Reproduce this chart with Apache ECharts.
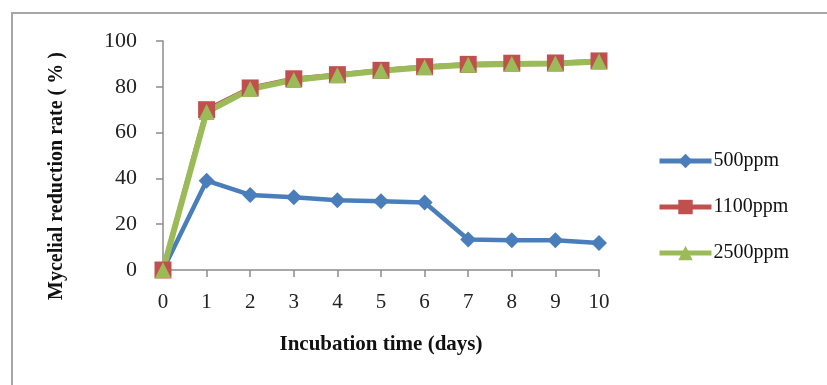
<!DOCTYPE html>
<html>
<head>
<meta charset="utf-8">
<script src="https://cdn.jsdelivr.net/npm/echarts@6/dist/echarts.min.js"></script>
<style>
  html, body { margin: 0; padding: 0; background: #fff; }
  #container { width: 827px; height: 385px; }
</style>
</head>
<body>
<div id="container"></div>
<script>
// data
var days = [0, 1, 2, 3, 4, 5, 6, 7, 8, 9, 10];
var ppm500 = [0, 39, 32.8, 31.8, 30.5, 30, 29.5, 13.3, 13, 13, 11.8];
var ppm1100 = [0, 70, 79.5, 83.5, 85.3, 87.2, 88.8, 89.8, 90.3, 90.4, 91.3];
var ppm2500 = [0, 69, 79, 83, 85, 87, 88.5, 89.6, 90, 90.2, 91];
var xTicks = { min: 0, max: 10, interval: 1 };
var yTicks = { min: 0, max: 100, interval: 20 };

function pairs(vals) {
    return days.map(function (d, i) { return [d, vals[i]]; });
}

var serif = '"Liberation Serif", "DejaVu Serif", serif';
var dom = document.getElementById("container");
var myChart = echarts.init(dom);

var option = {
    animation: false,
    backgroundColor: '#fff',
    grid: {
        left: 163,
        right: 228,
        top: 41,
        bottom: 115
    },
    legend: {
        orient: 'vertical',
        left: 652,
        top: 146,
        itemWidth: 52,
        itemHeight: 18,
        itemGap: 26,
        lineStyle: { width: 5 },
        textStyle: { fontFamily: serif, fontSize: 20, color: '#111', padding: [0, 0, 0, -3] },
        data: ['500ppm', '1100ppm', '2500ppm']
    },
    graphic: [
        {
            type: 'rect',
            shape: { x: 12, y: 13, width: 900, height: 500 },
            style: { fill: 'none', stroke: '#a6a6a6', lineWidth: 2 },
            silent: true
        },
        {
            type: 'text',
            x: 57,
            y: 176,
            rotation: Math.PI / 2,
            style: {
                text: 'Mycelial reduction rate ( % )',
                fontFamily: serif,
                fontWeight: 'bold',
                fontSize: 20,
                fill: '#111',
                align: 'center',
                verticalAlign: 'middle'
            }
        }
    ],
    xAxis: {
        type: 'value',
        min: xTicks.min,
        max: xTicks.max,
        interval: xTicks.interval,
        name: 'Incubation time (days)',
        nameLocation: 'middle',
        nameGap: 64,
        nameTextStyle: { fontFamily: serif, fontWeight: 'bold', fontSize: 21, color: '#111' },
        axisLine: { show: true, lineStyle: { color: '#8c8c8c', width: 1.5 } },
        axisTick: { show: true, length: 7, lineStyle: { color: '#8c8c8c', width: 1.5 } },
        axisLabel: { fontFamily: serif, fontSize: 21, color: '#222', margin: 22 },
        splitLine: { show: false }
    },
    yAxis: {
        type: 'value',
        min: yTicks.min,
        max: yTicks.max,
        interval: yTicks.interval,
        axisLine: { show: true, lineStyle: { color: '#8c8c8c', width: 1.5 } },
        axisTick: { show: true, length: 7, lineStyle: { color: '#8c8c8c', width: 1.5 } },
        axisLabel: { fontFamily: serif, fontSize: 22, color: '#222', margin: 26 },
        splitLine: { show: false }
    },
    series: [
        {
            name: '500ppm',
            type: 'line',
            data: pairs(ppm500),
            symbol: 'diamond',
            symbolSize: 16,
            itemStyle: { color: '#4a7ebb' },
            lineStyle: { color: '#4a7ebb', width: 4.5 }
        },
        {
            name: '1100ppm',
            type: 'line',
            data: pairs(ppm1100),
            symbol: 'rect',
            symbolSize: 17,
            itemStyle: { color: '#c0504d' },
            lineStyle: { color: '#c0504d', width: 4.5 }
        },
        {
            name: '2500ppm',
            type: 'line',
            data: pairs(ppm2500),
            symbol: 'triangle',
            symbolSize: 16,
            itemStyle: { color: '#9bbb59' },
            lineStyle: { color: '#9bbb59', width: 6 }
        }
    ]
};

if (option && typeof option === "object") {
    myChart.setOption(option, true);
}
</script>
</body>
</html>
